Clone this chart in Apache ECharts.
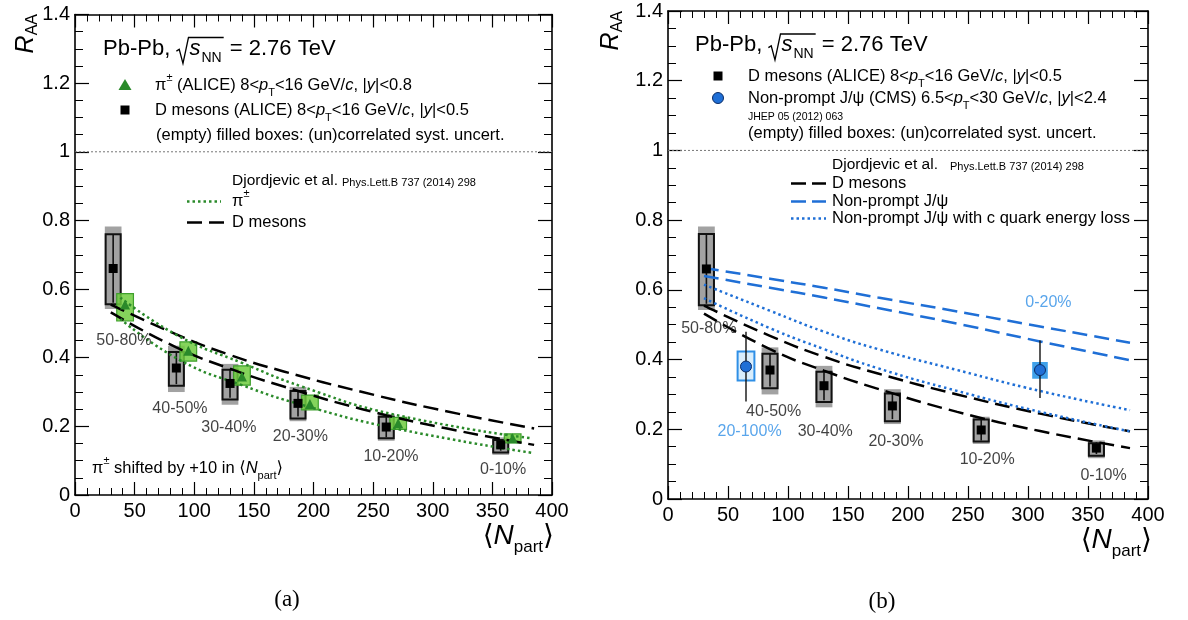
<!DOCTYPE html>
<html>
<head>
<meta charset="utf-8">
<script src="https://cdn.jsdelivr.net/npm/echarts@6/dist/echarts.min.js"></script>
<style>
  html, body { margin: 0; padding: 0; background: #fff; }
  #chart { width: 1188px; height: 620px; }
</style>
</head>
<body>
<div id="chart"></div>
<script>
// ---------------- data ----------------
// axis ticks
const xTicks = [0, 50, 100, 150, 200, 250, 300, 350, 400];
const yTicks = [0, 0.2, 0.4, 0.6, 0.8, 1.0, 1.2, 1.4];

// D mesons (ALICE), 8 < pT < 16 GeV/c
const centralityD = ['50-80%', '40-50%', '30-40%', '20-30%', '10-20%', '0-10%'];
const dNpart = [32, 85, 130, 187, 261, 357];
const dRaa = [0.66, 0.37, 0.325, 0.267, 0.198, 0.146];
const dStat = [0.10, 0.047, 0.042, 0.038, 0.030, 0.017];
const dUncorrLo = [0.556, 0.318, 0.278, 0.223, 0.165, 0.124];
const dUncorrHi = [0.760, 0.417, 0.365, 0.303, 0.228, 0.160];
const dCorrLo = [0.542, 0.300, 0.263, 0.215, 0.158, 0.117];
const dCorrHi = [0.782, 0.435, 0.382, 0.315, 0.236, 0.168];

// charged pions (ALICE), drawn shifted in Npart
const piShift = 10;
const piRaa = [0.555, 0.42, 0.345, 0.265, 0.209, 0.165];
const piSystLo = [0.507, 0.390, 0.320, 0.248, 0.191, 0.152];
const piSystHi = [0.587, 0.446, 0.376, 0.291, 0.226, 0.178];

// non-prompt J/psi (CMS)
const centralityJpsi = ['20-100%', '0-20%'];
const jpsiNpart = [65, 310];
const jpsiRaa = [0.38, 0.37];
const jpsiStatLo = [0.28, 0.29];
const jpsiStatHi = [0.48, 0.455];
const jpsiSystLo = [0.340, 0.345];
const jpsiSystHi = [0.423, 0.393];

// Djordjevic et al. calculations
const modelNpart = [30, 85, 130, 175, 241, 310, 385];
const dModelHi = [0.555, 0.468, 0.408, 0.360, 0.300, 0.245, 0.194];
const dModelLo = [0.532, 0.430, 0.368, 0.316, 0.250, 0.195, 0.146];
const jpsiDashHi = [0.663, 0.632, 0.606, 0.578, 0.538, 0.495, 0.448];
const jpsiDashLo = [0.640, 0.606, 0.578, 0.548, 0.503, 0.452, 0.398];
const jpsiDotHi = [0.615, 0.540, 0.480, 0.430, 0.370, 0.310, 0.255];
const jpsiDotLo = [0.576, 0.490, 0.430, 0.375, 0.310, 0.250, 0.194];
const piModelNpart = [38, 88, 140, 191, 267, 383];
const piModelHi = [0.575, 0.461, 0.385, 0.315, 0.235, 0.165];
const piModelLo = [0.513, 0.393, 0.320, 0.262, 0.195, 0.123];

// ---------------- layout / style ----------------
const FONT = "'Liberation Sans', 'DejaVu Sans', Arial, sans-serif";
const BLUE = '#1f6fd6';
const LIGHTBLUE = '#2f8fe6';
const GREEN = '#2a8a2a';

// label anchors, in (Npart, RAA) units
const dLabelAtLeft = [[41, 0.451], [88, 0.253], [129, 0.195], [189, 0.169], [265, 0.111], [359, 0.073]];
const dLabelAtRight = [[34, 0.488], [88, 0.250], [131, 0.194], [190, 0.165], [266, 0.112], [363, 0.068]];
const jpsiLabelAt = [[68, 0.194], [317, 0.564]];

const piNpart = dNpart.map(n => n + piShift);
const zip = (xs, ys) => xs.map((x, i) => [x, ys[i]]);

const measureCtx = document.createElement('canvas').getContext('2d');
function textWidth(txt, font) { measureCtx.font = font; return measureCtx.measureText(txt).width; }

// ---------------- series builders ----------------
function boxSeries(ax, xs, lo, hi, halfW, style, z) {
  return {
    type: 'custom', xAxisIndex: ax, yAxisIndex: ax, z, silent: true,
    encode: { x: 0, y: [1, 2] },
    data: xs.map((x, i) => [x, lo[i], hi[i]]),
    renderItem(params, api) {
      const x = api.value(0);
      const a = api.coord([x - halfW, api.value(2)]);
      const b = api.coord([x + halfW, api.value(1)]);
      return {
        type: 'rect',
        shape: { x: a[0], y: a[1], width: b[0] - a[0], height: b[1] - a[1] },
        style: Object.assign({}, style)
      };
    }
  };
}

function barSeries(ax, xs, lo, hi, color, width, z) {
  return {
    type: 'custom', xAxisIndex: ax, yAxisIndex: ax, z, silent: true,
    encode: { x: 0, y: [1, 2] },
    data: xs.map((x, i) => [x, lo[i], hi[i]]),
    renderItem(params, api) {
      const a = api.coord([api.value(0), api.value(2)]);
      const b = api.coord([api.value(0), api.value(1)]);
      return {
        type: 'line',
        shape: { x1: a[0], y1: a[1], x2: b[0], y2: b[1] },
        style: { stroke: color, lineWidth: width }
      };
    }
  };
}

function markerSeries(ax, xs, ys, symbol, size, color, border, z) {
  return {
    type: 'scatter', xAxisIndex: ax, yAxisIndex: ax, z, silent: true,
    symbol, symbolSize: size,
    itemStyle: { color, borderColor: border || color, borderWidth: border ? 1 : 0, opacity: 1 },
    data: zip(xs, ys)
  };
}

function curveSeries(ax, xs, ys, color, dash, width, z) {
  return {
    type: 'line', xAxisIndex: ax, yAxisIndex: ax, z, silent: true,
    data: zip(xs, ys), smooth: 0.5,
    symbol: 'none', showSymbol: false,
    lineStyle: { color, width, type: dash, cap: 'butt' }
  };
}

function labelSeries(ax, positions, texts, color) {
  return {
    type: 'scatter', xAxisIndex: ax, yAxisIndex: ax, z: 9, silent: true,
    symbol: 'circle', symbolSize: 1, itemStyle: { color: 'rgba(0,0,0,0)' },
    data: positions.map((p, i) => ({ value: p, name: texts[i] })),
    label: { show: true, position: 'inside', formatter: '{b}', color, fontSize: 16, fontFamily: FONT }
  };
}

function unitySeries(ax) {
  return {
    type: 'line', xAxisIndex: ax, yAxisIndex: ax, z: 1, silent: true,
    data: [[xTicks[0], 1], [xTicks[xTicks.length - 1], 1]], symbol: 'none',
    lineStyle: { color: '#777', width: 1, type: [2, 2] }
  };
}

// D meson points with their boxes
function dMesonSeries(ax) {
  return [
    boxSeries(ax, dNpart, dCorrLo, dCorrHi, 7, { fill: '#a2a2a2', stroke: null }, 2),
    boxSeries(ax, dNpart, dUncorrLo, dUncorrHi, 6.3, { fill: null, stroke: '#111', lineWidth: 2 }, 3),
    barSeries(ax, dNpart, dRaa.map((v, i) => v - dStat[i]), dRaa.map((v, i) => v + dStat[i]), '#111', 1.6, 4),
    markerSeries(ax, dNpart, dRaa, 'rect', 9, '#000', null, 8)
  ];
}

// ---------------- axes ----------------
function xAxes(gridIndex) {
  const common = {
    gridIndex, type: 'value',
    min: xTicks[0], max: xTicks[xTicks.length - 1], interval: xTicks[1] - xTicks[0],
    axisLine: { onZero: false, lineStyle: { color: '#000', width: 1.6 } },
    axisTick: { inside: true, length: 13, lineStyle: { color: '#000', width: 1.2 } },
    minorTick: { show: true, splitNumber: 5, length: 7, lineStyle: { color: '#000', width: 1 } },
    splitLine: { show: false }
  };
  return [
    Object.assign({}, common, {
      position: 'bottom',
      axisLabel: { show: true, margin: 6, fontSize: 20, color: '#000', fontFamily: FONT, showMinLabel: true, showMaxLabel: true }
    }),
    Object.assign({}, common, { position: 'top', axisLabel: { show: false } })
  ];
}

function yAxes(gridIndex) {
  const common = {
    gridIndex, type: 'value',
    min: yTicks[0], max: yTicks[yTicks.length - 1], interval: yTicks[1] - yTicks[0],
    axisLine: { onZero: false, lineStyle: { color: '#000', width: 1.6 } },
    axisTick: { inside: true, length: 14, lineStyle: { color: '#000', width: 1.2 } },
    minorTick: { show: true, splitNumber: 4, length: 8, lineStyle: { color: '#000', width: 1 } },
    splitLine: { show: false }
  };
  return [
    Object.assign({}, common, {
      position: 'left',
      axisLabel: { show: true, margin: 5, fontSize: 20, color: '#000', fontFamily: FONT, showMinLabel: true, showMaxLabel: true }
    }),
    Object.assign({}, common, { position: 'right', axisLabel: { show: false } })
  ];
}

// ---------------- text helpers ----------------
function richSet(fs, color) {
  const lh = Math.round(fs * 1.6);
  const sf = Math.round(fs * 0.66);
  const base = { fontFamily: FONT, fill: color };
  return {
    t: Object.assign({}, base, { fontSize: fs, lineHeight: lh }),
    i: Object.assign({}, base, { fontSize: fs, lineHeight: lh, fontStyle: 'italic' }),
    d: Object.assign({}, base, { fontSize: sf, lineHeight: Math.round(fs * 0.55), verticalAlign: 'bottom' }),
    u: Object.assign({}, base, { fontSize: sf, lineHeight: Math.round(fs * 0.55), verticalAlign: 'top' })
  };
}

function gText(x, y, text, fs, color, align) {
  color = color || '#000';
  return {
    type: 'text', x, y, z: 100, silent: true,
    style: {
      text, rich: richSet(fs, color), fill: color, fontFamily: FONT, fontSize: fs,
      align: align || 'left', verticalAlign: 'middle'
    }
  };
}

function plainText(x, y, text, fs, italic, color) {
  return {
    type: 'text', x, y, z: 100, silent: true,
    style: {
      text, fill: color || '#000', fontFamily: FONT, fontSize: fs,
      fontStyle: italic ? 'italic' : 'normal', align: 'left', verticalAlign: 'middle'
    }
  };
}

// "Djordjevic et al." followed by the smaller reference, sharing a baseline
function modelHeader(x, y, fs, gap) {
  const w = textWidth('Djordjevic et al.', `${fs}px ${FONT}`);
  return [
    plainText(x, y, 'Djordjevic et al.', fs),
    plainText(x + w + gap, y + 1.5, 'Phys.Lett.B 737 (2014) 298', 11)
  ];
}

// "Pb-Pb, sqrt(s_NN) = 2.76 TeV" with a drawn radical
function energyTitle(x, y, fs) {
  const sf = Math.round(fs * 0.64);
  const wLead = textWidth('Pb-Pb, ', `${fs}px ${FONT}`);
  const radW = fs * 0.55;
  const rx = x + wLead;
  const xs = rx + radW + 1;
  const wS = textWidth('s', `italic ${fs}px ${FONT}`);
  const xn = xs + wS + 1;
  const wN = textWidth('NN', `${sf}px ${FONT}`);
  const xe = xn + wN + 2;
  const top = y - fs * 0.5;
  const bot = y + fs * 0.68;
  return [
    plainText(x, y, 'Pb-Pb,', fs),
    {
      type: 'polyline', z: 100, silent: true,
      shape: { points: [[rx, y + fs * 0.12], [rx + fs * 0.13, y + fs * 0.04], [rx + fs * 0.3, bot], [rx + radW, top], [xe, top]] },
      style: { stroke: '#000', lineWidth: 1.3, fill: null }
    },
    plainText(xs, y, 's', fs, true),
    plainText(xn, y + fs * 0.43, 'NN', sf),
    plainText(xe + textWidth(' ', `${fs}px ${FONT}`), y, '= 2.76 TeV', fs)
  ];
}

// rotated R_AA title
function raaTitle(x, y) {
  return {
    type: 'text', x, y, rotation: Math.PI / 2, z: 100, silent: true,
    style: {
      text: '{r|R}{s|AA}', align: 'right', verticalAlign: 'bottom',
      rich: {
        r: { fontFamily: FONT, fontSize: 25, fontStyle: 'italic', fill: '#000', lineHeight: 30 },
        s: { fontFamily: FONT, fontSize: 16, fill: '#000', lineHeight: 10, verticalAlign: 'bottom' }
      }
    }
  };
}

// <N_part> title
function npartTitle(xRight, y) {
  return {
    type: 'text', x: xRight, y, z: 100, silent: true,
    style: {
      text: '{b|⟨}{n|N}{s|part}{b|⟩}', align: 'right', verticalAlign: 'middle',
      rich: {
        b: { fontFamily: FONT, fontSize: 28, fill: '#000', lineHeight: 40 },
        n: { fontFamily: FONT, fontSize: 28, fontStyle: 'italic', fill: '#000', lineHeight: 40 },
        s: { fontFamily: FONT, fontSize: 17, fill: '#000', lineHeight: 10, verticalAlign: 'bottom' }
      }
    }
  };
}

function legendLine(x1, x2, y, color, dash, width) {
  return {
    type: 'line', z: 100, silent: true,
    shape: { x1, y1: y, x2, y2: y },
    style: { stroke: color, lineWidth: width, lineDash: dash }
  };
}

const fsLeg = 16.5;
const ptCuts = (lo, hi, ycut) => `{t|${lo}<}{i|p}{d|T}{t|<${hi} GeV/}{i|c}{t|, |}{i|y}{t||<${ycut}}`;

const graphics = [
  // left panel
  raaTitle(41, 14),
  npartTitle(554, 536),
  ...energyTitle(103, 48.5, 22),
  { type: 'polygon', z: 100, silent: true, shape: { points: [[118.5, 90], [131.5, 90], [125, 79]] }, style: { fill: GREEN } },
  gText(155, 85, '{t|π}{u|±}{t| (ALICE) }' + ptCuts(8, 16, 0.8), fsLeg),
  { type: 'rect', z: 100, silent: true, shape: { x: 120.5, y: 105.5, width: 9, height: 9 }, style: { fill: '#000' } },
  gText(155, 110, '{t|D mesons (ALICE) }' + ptCuts(8, 16, 0.5), fsLeg),
  gText(156, 135, '{t|(empty) filled boxes: (un)correlated syst. uncert.}', fsLeg),
  ...modelHeader(232, 181, 15.5, 4),
  legendLine(187, 221, 201.5, GREEN, [2.5, 3], 2.5),
  gText(232, 201.5, '{t|π}{u|±}', fsLeg),
  legendLine(187, 224, 222.5, '#000', [15, 7], 2.5),
  gText(232, 222.5, '{t|D mesons}', fsLeg),
  gText(92, 468, '{t|π}{u|±}{t| shifted by +10 in ⟨}{i|N}{d|part}{t|⟩}', fsLeg),

  // right panel
  raaTitle(626, 11),
  npartTitle(1152, 540),
  ...energyTitle(695, 45, 22),
  { type: 'rect', z: 100, silent: true, shape: { x: 713.5, y: 71.5, width: 9, height: 9 }, style: { fill: '#000' } },
  gText(748, 76, '{t|D mesons (ALICE) }' + ptCuts(8, 16, 0.5), fsLeg),
  { type: 'circle', z: 100, silent: true, shape: { cx: 718, cy: 98, r: 5.5 }, style: { fill: BLUE, stroke: '#0b2c66', lineWidth: 1 } },
  gText(748, 98, '{t|Non-prompt J/ψ (CMS) }' + ptCuts(6.5, 30, 2.4), fsLeg),
  plainText(748, 117, 'JHEP 05 (2012) 063', 10.5),
  gText(748, 133.5, '{t|(empty) filled boxes: (un)correlated syst. uncert.}', fsLeg),
  ...modelHeader(832, 165, 15.5, 12),
  legendLine(791, 826, 183.5, '#000', [15, 6], 2.5),
  gText(832, 183.5, '{t|D mesons}', fsLeg),
  legendLine(791, 826, 201.5, BLUE, [15, 6], 2.5),
  gText(832, 201.5, '{t|Non-prompt J/ψ}', fsLeg),
  legendLine(791, 826, 218.5, BLUE, [2.5, 3], 2.5),
  gText(832, 218.5, '{t|Non-prompt J/ψ with c quark energy loss}', fsLeg),

  // sub-figure captions
  { type: 'text', x: 287, y: 600, z: 100, silent: true, style: { text: '(a)', fontFamily: "'Liberation Serif', 'DejaVu Serif', serif", fontSize: 23, fill: '#000', align: 'center', verticalAlign: 'middle' } },
  { type: 'text', x: 882, y: 602, z: 100, silent: true, style: { text: '(b)', fontFamily: "'Liberation Serif', 'DejaVu Serif', serif", fontSize: 23, fill: '#000', align: 'center', verticalAlign: 'middle' } }
];

// ---------------- series ----------------
const L = 0, R = 2; // axis indices of the bottom/left axes of each panel
const series = [
  // panel (a)
  unitySeries(L),
  ...dMesonSeries(L),
  boxSeries(L, piNpart, piSystLo, piSystHi, 7, { fill: 'rgba(112, 204, 64, 0.85)', stroke: '#3f9f2c', lineWidth: 1.2 }, 5),
  markerSeries(L, piNpart, piRaa, 'triangle', 10, GREEN, null, 8),
  curveSeries(L, modelNpart, dModelHi, '#000', [15, 7], 2.5, 6),
  curveSeries(L, modelNpart, dModelLo, '#000', [15, 7], 2.5, 6),
  curveSeries(L, piModelNpart, piModelHi, GREEN, [2.5, 3], 2.5, 6),
  curveSeries(L, piModelNpart, piModelLo, GREEN, [2.5, 3], 2.5, 6),
  labelSeries(L, dLabelAtLeft, centralityD, '#111'),

  // panel (b)
  unitySeries(R),
  ...dMesonSeries(R),
  curveSeries(R, modelNpart, dModelHi, '#000', [15, 7], 2.5, 6),
  curveSeries(R, modelNpart, dModelLo, '#000', [15, 7], 2.5, 6),
  curveSeries(R, modelNpart, jpsiDashHi, BLUE, [15, 7], 2.5, 6),
  curveSeries(R, modelNpart, jpsiDashLo, BLUE, [15, 7], 2.5, 6),
  curveSeries(R, modelNpart, jpsiDotHi, BLUE, [2.5, 3.2], 2.5, 6),
  curveSeries(R, modelNpart, jpsiDotLo, BLUE, [2.5, 3.2], 2.5, 6),
  boxSeries(R, jpsiNpart.slice(0, 1), jpsiSystLo.slice(0, 1), jpsiSystHi.slice(0, 1), 7, { fill: 'rgba(190, 225, 250, 0.6)', stroke: LIGHTBLUE, lineWidth: 2 }, 5),
  boxSeries(R, jpsiNpart.slice(1), jpsiSystLo.slice(1), jpsiSystHi.slice(1), 6.5, { fill: '#3fa1ea', stroke: null }, 5),
  barSeries(R, jpsiNpart, jpsiStatLo, jpsiStatHi, '#111', 1.4, 7),
  markerSeries(R, jpsiNpart, jpsiRaa, 'circle', 11, BLUE, '#0b2c66', 8),
  labelSeries(R, dLabelAtRight, centralityD, '#111'),
  labelSeries(R, jpsiLabelAt, centralityJpsi, LIGHTBLUE)
];

const chart = echarts.init(document.getElementById('chart'), null, { renderer: 'canvas' });
chart.setOption({
  animation: false,
  backgroundColor: '#fff',
  grid: [
    { left: 75, top: 14.5, width: 477, height: 480.5 },
    { left: 668, top: 11, width: 480, height: 488 }
  ],
  xAxis: [...xAxes(0), ...xAxes(1)],
  yAxis: [...yAxes(0), ...yAxes(1)],
  series,
  graphic: graphics
});
</script>
</body>
</html>
